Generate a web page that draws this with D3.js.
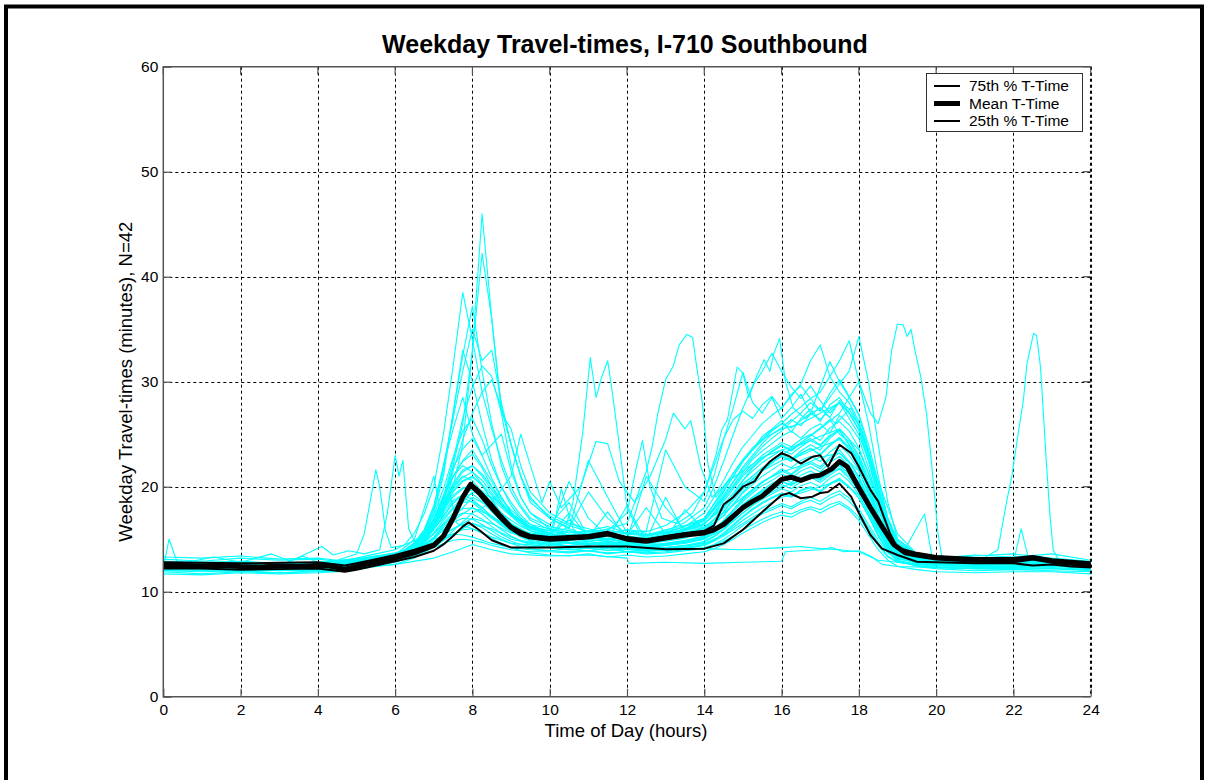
<!DOCTYPE html>
<html>
<head>
<meta charset="utf-8">
<script src="https://cdn.jsdelivr.net/npm/d3@7"></script>
<style>
  body { margin: 0; background: #fff; }
  svg { display: block; font-family: "Liberation Sans", Arial, sans-serif; }
</style>
</head>
<body>
<div id="main-chart"></div>
<script>
var hourTicks = d3.range(0, 25, 2);
var minuteTicks = d3.range(0, 61, 10);
var legendLabels = ["75th % T-Time", "Mean T-Time", "25th % T-Time"];

// shared time grid for the ordinary day traces
var traceHours = [0, 1, 2, 3, 4, 4.5, 5, 5.5,
  6, 6.25, 6.5, 6.75, 7, 7.25, 7.5, 7.75, 8, 8.25, 8.5, 8.75, 9, 9.25, 9.5,
  10, 10.5, 11, 11.5, 12, 12.5, 13, 13.5, 14,
  14.25, 14.5, 14.75, 15, 15.25, 15.5, 15.75, 16, 16.25, 16.5, 16.75, 17, 17.25, 17.5, 17.75, 18, 18.25, 18.5, 18.75, 19,
  19.5, 20, 21, 22, 23, 24];

var dayTraces = [
  [12.6,12.4,12.5,12.3,12.5, 12.4,12.8,13.0, 13.2,13.6,14.1,15.0,16.5,18.0,20.0,24.0,33.0,46.0,36.0,27.0,22.0,19.0,17.5, 16.0,15.4,15.8,16.2,15.6,15.4,15.9,16.3,17.0, 18.0,19.5,21.0,22.4,23.5,24.8,25.5,26.3,25.2,26.5,27.4,26.2,27.8,28.5,27.0,25.5,22.5,19.0,16.0,14.2, 13.3,13.0,12.8,12.9,12.7,12.6],
  [12.2,12.0,12.3,12.1,12.0, 12.2,12.5,12.9, 13.0,13.3,13.9,14.8,16.2,18.5,22.0,26.0,33.0,42.2,36.0,27.5,24.0,21.0,19.0, 17.0,16.0,15.3,15.0,14.8,14.9,15.2,15.5,16.1, 16.8,17.9,19.2,20.6,21.8,22.6,23.4,24.0,23.5,24.2,24.9,25.6,26.4,25.0,24.3,22.8,20.4,17.3,15.2,13.9, 13.2,12.9,12.7,12.6,12.8,12.5],
  [13.1,12.9,13.2,13.0,13.1, 12.9,13.2,13.6, 14.0,14.5,15.6,17.4,20.0,25.0,31.5,38.5,34.0,29.0,25.5,22.5,20.0,18.2,17.0, 16.2,15.8,15.4,15.7,15.2,15.0,15.4,15.8,16.4, 17.5,18.8,20.1,21.4,22.6,23.4,24.1,24.8,25.3,24.6,25.5,26.0,25.1,26.8,25.9,24.6,21.8,18.6,15.6,14.0, 13.4,13.1,13.0,12.9,13.1,12.8],
  [12.4,12.5,12.2,12.4,12.3, 12.5,12.7,13.1, 13.4,13.8,14.5,15.6,17.8,21.5,27.0,32.5,37.2,31.0,26.0,22.0,19.5,18.0,16.8, 15.9,15.2,15.0,14.8,14.6,14.7,14.9,15.3,15.8, 16.5,17.6,18.9,20.2,21.0,21.8,22.5,23.1,22.6,23.4,24.0,23.5,24.6,25.4,24.0,22.6,20.2,17.4,15.0,13.8, 13.1,12.9,12.8,12.7,12.9,12.6],
  [12.7,12.5,12.6,12.4,12.6, 12.6,12.9,13.3, 13.6,14.0,14.7,15.9,18.2,22.0,26.5,31.0,35.0,32.0,33.0,28.0,24.0,21.0,18.5, 17.0,16.1,19.5,17.0,15.4,18.0,15.5,16.0,16.8, 17.9,19.2,20.5,21.9,23.0,24.1,25.0,25.6,26.4,25.8,26.9,27.5,26.6,28.2,27.4,25.8,23.0,19.6,16.4,14.4, 13.5,13.2,13.4,13.6,13.2,12.9],
  [12.1,12.2,11.9,12.1,12.0, 12.1,12.4,12.8, 13.1,13.5,14.2,15.4,17.5,21.0,27.0,33.0,30.0,26.0,22.5,20.0,18.2,17.0,16.0, 15.4,14.9,14.6,14.8,14.5,14.3,14.6,14.8,15.3, 15.9,16.8,17.8,18.9,19.7,20.4,21.0,21.7,21.2,22.0,22.4,21.9,22.8,23.5,22.4,21.0,18.9,16.5,14.6,13.5, 12.9,12.7,12.5,12.4,12.5,12.3],
  [12.5,12.3,12.4,12.2,12.4, 12.3,12.6,12.9, 13.3,13.6,14.1,15.0,16.6,19.0,22.5,26.5,29.5,31.5,30.5,27.0,25.5,22.0,19.5, 17.5,16.5,16.0,15.6,15.9,15.4,15.7,16.2,16.9, 17.8,18.9,20.0,21.2,22.1,23.0,23.6,24.2,23.8,24.5,25.0,24.4,25.6,26.2,25.3,23.7,21.3,18.2,15.5,14.0, 13.3,13.0,12.9,12.8,12.9,12.7],
  [12.8,12.6,12.7,12.5,12.7, 12.7,13.0,13.3, 13.5,13.9,14.6,15.5,16.9,18.8,21.5,24.5,27.0,29.0,30.2,27.5,24.0,21.0,18.8, 17.2,16.3,15.7,15.9,15.5,15.3,15.6,15.9,16.5, 17.3,18.3,19.4,20.6,21.5,22.3,22.9,23.5,23.1,23.8,24.4,23.9,24.8,25.5,24.5,23.0,20.8,17.9,15.3,13.9, 13.2,12.9,12.8,12.7,12.8,12.6],
  [12.3,12.4,12.2,12.3,12.1, 12.3,12.6,13.0, 13.3,13.7,14.5,15.8,18.0,22.0,25.5,28.5,25.0,23.0,24.0,25.0,21.5,19.0,17.5, 16.4,18.5,15.2,17.6,15.0,14.9,19.0,15.5,16.1, 16.9,18.0,19.1,20.3,21.0,21.8,22.3,22.9,22.5,23.2,23.6,23.1,24.0,24.7,23.8,22.4,20.1,17.3,15.0,13.7, 13.0,12.8,12.7,12.6,12.8,12.5],
  [12.6,12.5,12.3,12.5,12.4, 12.5,12.8,13.2, 13.5,13.9,14.6,15.6,17.3,19.8,22.8,25.3,26.5,24.5,22.0,20.0,18.5,17.3,16.4, 15.6,15.1,14.8,15.0,14.7,14.6,14.8,15.1,15.7, 16.4,17.3,18.3,19.4,20.2,21.0,21.6,22.2,21.8,22.5,22.9,22.4,23.3,24.0,23.0,21.6,19.4,16.9,14.8,13.6, 13.0,12.8,12.7,12.6,12.7,12.5],
  [12.2,12.1,12.0,12.2,12.1, 12.2,12.4,12.8, 13.0,13.4,14.0,15.0,16.6,19.0,21.8,23.6,24.6,23.0,20.8,19.0,17.6,16.6,15.8, 15.2,14.7,14.5,14.7,14.4,14.3,14.5,14.8,15.3, 15.9,16.7,17.6,18.6,19.4,20.1,20.6,21.2,20.8,21.5,21.9,21.4,22.3,22.9,22.0,20.7,18.7,16.4,14.4,13.3, 12.8,12.6,12.5,12.4,12.5,12.3],
  [12.9,12.8,12.9,12.7,12.8, 12.8,13.1,13.4, 13.7,14.0,14.6,15.5,16.9,18.8,21.0,22.4,23.1,21.8,20.0,18.5,17.2,16.4,15.8, 15.3,17.5,15.2,14.9,18.2,14.8,15.0,17.8,15.9, 16.6,17.6,18.7,19.8,20.7,21.6,22.3,22.9,22.4,23.1,23.7,23.0,23.9,24.6,23.6,22.1,19.8,17.1,14.9,13.8, 13.2,13.0,12.9,12.9,13.0,12.7],
  [12.4,12.2,12.3,12.1,12.3, 12.2,12.5,12.9, 13.2,13.6,14.3,15.4,17.0,19.2,21.0,22.0,21.4,20.2,18.7,17.5,16.5,15.8,15.3, 14.9,14.6,14.4,14.6,14.3,14.2,14.4,14.6,15.0, 15.6,16.4,17.3,18.2,18.9,19.5,20.0,20.5,20.2,20.8,21.2,20.7,21.5,22.1,21.2,20.0,18.1,16.0,14.2,13.3, 12.8,12.6,12.5,12.4,12.5,12.3],
  [12.0,11.9,12.0,11.8,12.0, 11.9,12.2,12.6, 12.9,13.2,13.8,14.7,16.0,17.8,19.6,20.6,21.0,20.1,18.8,17.4,16.4,15.6,15.1, 14.7,14.3,14.1,14.3,14.0,13.9,14.1,14.3,14.7, 15.2,15.9,16.7,17.5,18.2,18.8,19.3,19.8,19.5,20.1,20.4,20.0,20.8,21.3,20.5,19.3,17.5,15.5,13.9,13.0, 12.4,12.2,12.0,12.1,12.0,11.9],
  [12.7,12.6,12.5,12.6,12.5, 12.6,12.9,13.2, 13.5,13.8,14.4,15.2,16.4,17.9,19.2,19.9,20.1,19.2,18.1,17.0,16.1,15.5,15.1, 14.8,14.6,14.8,14.5,14.7,14.4,14.6,14.9,15.3, 15.9,16.8,17.8,18.8,19.6,20.4,21.0,21.5,21.1,21.8,22.2,21.7,22.6,23.2,22.3,20.9,18.8,16.5,14.5,13.5, 13.0,12.8,12.7,12.7,12.8,12.5],
  [12.3,12.4,12.2,12.3,12.2, 12.3,12.6,12.9, 13.2,13.5,14.1,14.9,16.0,17.3,18.5,19.1,19.3,18.6,17.6,16.7,15.9,15.3,14.9, 14.6,14.3,14.2,14.4,14.1,14.0,14.2,14.4,14.8, 15.3,16.0,16.9,17.8,18.5,19.2,19.7,20.2,19.8,20.5,20.9,20.4,21.1,21.7,20.8,19.6,17.8,15.8,14.1,13.2, 12.7,12.5,12.4,12.4,12.5,12.2],
  [12.5,12.3,12.4,12.4,12.3, 12.4,12.6,12.9, 13.1,13.4,13.9,14.6,15.6,16.8,17.9,18.5,18.6,18.0,17.1,16.3,15.7,15.2,14.8, 14.5,14.4,14.6,14.3,14.5,14.2,14.4,14.7,15.1, 15.6,16.4,17.3,18.3,19.0,19.7,20.3,20.8,20.4,21.1,21.5,21.0,21.8,22.4,21.5,20.2,18.3,16.2,14.3,13.4, 12.9,12.7,12.6,12.6,12.6,12.4],
  [11.9,11.7,11.9,11.8,11.9, 12.0,12.3,12.6, 12.8,13.1,13.6,14.3,15.2,16.3,17.3,17.9,18.0,17.4,16.6,15.9,15.3,14.8,14.5, 14.2,14.0,13.9,14.1,13.8,13.8,14.0,14.2,14.5, 14.9,15.5,16.3,17.1,17.8,18.4,18.9,19.3,19.0,19.6,19.9,19.5,20.2,20.7,20.0,18.9,17.2,15.3,13.8,12.9, 12.5,12.3,12.2,12.1,12.2,12.0],
  [12.8,12.7,12.8,12.6,12.7, 12.7,13.0,13.3, 13.5,13.7,14.1,14.7,15.5,16.4,17.1,17.5,17.4,16.9,16.2,15.6,15.2,14.9,14.7, 14.5,14.7,14.5,14.8,14.4,14.6,14.5,14.8,15.2, 15.7,16.5,17.4,18.3,19.0,19.6,20.1,20.5,20.1,20.7,21.1,20.6,21.3,21.8,21.0,19.8,18.0,16.0,14.3,13.4, 13.0,12.8,12.7,12.7,12.8,12.5],
  [12.4,12.3,12.1,12.3,12.2, 12.2,12.5,12.8, 13.0,13.3,13.7,14.3,15.1,15.9,16.6,17.0,16.9,16.4,15.8,15.2,14.8,14.5,14.3, 14.2,14.0,14.2,13.9,14.1,13.9,14.0,14.2,14.5, 14.9,15.6,16.4,17.2,17.9,18.5,19.0,19.4,19.1,19.7,20.0,19.6,20.3,20.8,20.0,18.9,17.2,15.3,13.8,13.0, 12.6,12.4,12.3,12.3,12.4,12.2],
  [12.2,12.3,12.0,12.2,12.1, 12.2,12.4,12.7, 12.9,13.1,13.5,14.0,14.7,15.4,16.0,16.4,16.5,16.1,15.5,15.0,14.6,14.3,14.1, 13.9,13.8,13.9,13.7,13.8,13.7,13.8,14.0,14.2, 14.5,15.0,15.6,16.3,16.9,17.4,17.8,18.2,17.9,18.4,18.7,18.3,18.9,19.3,18.6,17.6,16.1,14.6,13.4,12.8, 12.5,12.3,12.2,12.2,12.3,12.1],
  [11.7,11.6,11.8,11.7,11.8, 11.9,12.1,12.4, 12.6,12.9,13.2,13.7,14.3,14.9,15.5,15.9,16.0,15.6,15.1,14.6,14.2,13.9,13.7, 13.5,13.4,13.6,13.3,13.5,13.3,13.4,13.6,13.8, 14.1,14.5,15.0,15.6,16.1,16.6,17.0,17.3,17.1,17.6,17.9,17.5,18.0,18.4,17.8,16.8,15.4,14.0,13.0,12.4, 12.1,11.9,11.8,11.9,11.9,11.7],
  [13.3,13.2,13.4,13.1,13.2, 13.0,13.1,13.4, 13.6,13.8,14.1,14.5,15.0,15.3,15.5,15.4,15.2,14.9,14.6,14.4,14.2,14.1,14.0, 13.9,14.1,13.9,14.2,13.8,14.0,13.9,14.1,14.4, 14.8,15.3,15.9,16.5,17.1,17.6,18.0,18.4,18.1,18.6,19.0,18.6,19.2,19.6,18.9,17.9,16.4,14.9,13.7,13.1, 12.9,12.8,12.9,12.8,12.9,12.7],
  [12.6,12.5,12.6,12.4,12.5, 12.5,12.7,12.9, 13.1,13.2,13.5,13.8,14.2,14.6,14.9,15.0,14.9,14.7,14.4,14.2,14.0,13.9,13.8, 13.8,13.7,13.9,13.6,13.8,13.6,13.7,13.9,14.1, 14.4,14.8,15.3,15.9,16.4,16.9,17.3,17.6,17.4,17.8,18.1,17.8,18.3,18.6,18.0,17.1,15.8,14.4,13.3,12.8, 12.6,12.5,12.4,12.4,12.5,12.3],
  [12.5,12.4,12.5,12.3,12.4, 12.4,12.7,13.0, 13.3,13.6,14.2,15.0,16.2,17.6,18.7,19.2,18.8,18.0,17.2,16.5,15.9,15.5,15.2, 15.0,15.3,15.1,15.5,15.0,15.3,15.6,16.2,17.5, 19.0,20.6,22.3,23.8,24.9,26.0,26.8,27.5,28.6,29.8,32.0,33.5,30.5,29.0,28.0,26.2,23.4,19.8,16.5,14.5, 13.4,13.1,12.9,12.9,13.0,12.7],
  [12.2,12.1,12.3,12.0,12.2, 12.2,12.5,12.9, 13.2,13.6,14.3,15.2,16.7,18.4,20.0,21.0,20.6,19.5,18.3,17.3,16.5,15.9,15.5, 15.2,14.9,15.2,15.0,15.3,15.1,15.5,16.0,17.0, 18.3,19.6,21.0,22.4,23.5,24.4,25.3,26.0,26.9,27.6,28.4,29.0,30.5,32.0,33.9,30.0,26.0,21.0,17.0,14.6, 13.5,13.2,13.0,12.9,13.0,12.8],
  [12.7,12.6,12.7,12.5,12.6, 12.6,12.9,13.2, 13.4,13.7,14.3,15.2,16.5,18.0,19.5,20.5,20.9,20.2,19.2,18.2,17.3,16.6,16.0, 15.6,20.5,17.0,15.3,14.9,21.0,18.0,15.9,16.7, 17.8,19.0,20.4,21.7,22.8,23.8,24.6,25.3,26.2,27.0,28.0,27.2,28.5,29.8,31.0,34.3,30.0,24.0,18.5,15.0, 13.6,13.3,13.1,13.0,13.1,12.8],
  [12.4,12.3,12.4,12.2,12.3, 12.3,12.6,13.0, 13.3,13.7,14.4,15.4,16.9,18.6,20.3,21.6,22.0,21.0,19.7,18.5,17.5,16.8,16.2, 15.8,15.4,15.6,15.3,15.6,15.4,15.8,16.6,18.0, 20.0,22.4,25.0,27.5,29.6,31.0,32.7,31.0,29.5,28.4,29.6,28.2,27.0,28.0,26.5,25.0,22.5,19.0,16.0,14.2, 13.3,13.0,12.9,12.8,12.9,12.6],
  [12.8,12.7,12.6,12.7,12.6, 12.7,13.0,13.3, 13.6,13.9,14.5,15.3,16.4,17.8,19.0,19.8,20.1,19.6,18.8,18.0,17.2,16.6,16.2, 15.8,16.0,22.5,19.0,15.6,15.8,23.5,20.0,18.6, 21.0,24.5,27.5,30.9,28.0,27.0,28.5,26.5,27.5,28.8,27.0,29.5,31.9,30.0,28.5,26.8,23.5,20.0,16.8,14.6, 13.5,13.2,13.5,13.3,13.6,13.0],
  [12.3,12.2,12.1,12.3,12.2, 12.2,12.5,12.8, 13.1,13.4,14.0,14.8,15.9,17.2,18.4,19.3,19.7,19.2,18.4,17.5,16.8,16.2,15.8, 15.4,15.0,15.2,14.9,15.2,15.0,15.3,15.9,17.0, 18.4,19.8,21.3,22.6,23.7,24.6,25.4,26.0,25.6,26.3,27.0,26.4,27.3,28.0,27.0,25.4,22.6,19.2,16.2,14.3, 13.3,13.0,12.8,12.8,12.9,12.6],
  [12.6,12.5,12.4,12.6,12.5, 12.5,12.8,13.1, 13.4,13.8,14.4,15.3,16.7,18.4,20.1,21.4,22.0,21.2,20.0,18.8,17.8,17.0,16.4, 16.0,15.6,15.8,15.5,15.9,15.7,16.3,17.5,19.5, 22.0,24.6,26.4,27.2,26.5,27.8,28.6,27.4,28.8,29.6,28.4,27.2,28.9,30.2,28.6,26.9,24.0,20.4,17.0,14.8, 13.5,13.2,13.0,12.9,13.0,12.8],
  [12.0,12.1,11.9,12.1,12.0, 12.0,12.3,12.7, 13.0,13.4,14.1,15.1,16.5,18.2,19.8,20.9,21.4,20.6,19.4,18.3,17.4,16.7,16.1, 15.6,15.1,14.8,15.0,14.7,14.8,15.1,15.6,16.4, 17.4,18.6,19.8,21.0,21.9,22.7,23.3,23.9,23.4,24.1,24.6,24.0,24.9,25.3,24.0,22.2,19.6,16.8,14.6,13.4, 12.9,12.7,12.6,12.5,12.6,12.4]
];

// days with isolated spikes, read as [hour, minutes]
var spikeTraces = [
  [[0,12.5],[1,12.3],[2,12.6],[3,12.5],[3.6,13.4],[4,12.8],[4.5,13.0],[5.0,13.6],[5.2,15.5],[5.35,18.5],[5.5,21.6],[5.6,20.0],[5.75,15.8],[5.9,14.2],[6.2,14.4],[6.6,15.0],[7,16.0],[7.5,18.0],[7.75,19.0],[8,18.5],[8.5,17.0],[9,15.8],[9.5,15.2],[10,14.8],[11,14.6],[12,14.4],[13,14.5],[14,15.0],[14.5,16.0],[15,17.5],[15.5,19.0],[16,20.0],[16.5,20.6],[17,21.3],[17.5,22.0],[18,20.5],[18.5,16.5],[19,13.8],[19.5,13.0],[20,12.8],[21,12.7],[22,12.6],[23,12.7],[24,12.5]],
  [[0,12.9],[0.5,12.7],[1.3,13.3],[2,12.8],[2.8,13.6],[3.3,12.9],[4.1,14.3],[4.4,13.5],[4.8,13.9],[5.2,13.6],[5.6,14.0],[5.8,17.5],[6.0,23.0],[6.1,21.0],[6.2,22.5],[6.35,16.0],[6.5,14.8],[6.8,15.5],[7.0,16.4],[7.25,18.0],[7.5,21.0],[7.75,22.5],[8,23.5],[8.25,22.0],[8.5,20.5],[8.75,19.0],[9,17.5],[9.5,16.0],[10,15.5],[10.5,16.8],[11,15.4],[11.5,15.0],[12,15.2],[12.5,14.9],[13,15.3],[13.5,15.8],[14,16.5],[14.5,18.0],[15,20.0],[15.5,21.5],[16,22.5],[16.5,23.0],[17,23.8],[17.5,24.5],[18,22.6],[18.5,18.0],[19,14.5],[19.5,13.4],[20,13.1],[21,13.0],[22,12.9],[23,13.0],[24,12.8]],
  [[0,12.3],[0.15,15.0],[0.35,12.9],[1,12.4],[2,12.2],[3,12.3],[4,12.4],[5,12.5],[6,13.0],[6.5,13.8],[7,15.2],[7.5,17.0],[8,19.0],[8.5,18.0],[9,16.5],[9.5,15.5],[10,15.0],[10.4,16.0],[10.6,18.5],[10.85,25.0],[11.05,32.3],[11.2,28.5],[11.35,30.5],[11.5,32.0],[11.6,29.5],[11.8,24.0],[12.0,18.0],[12.3,15.8],[12.7,15.2],[13,15.0],[13.5,15.5],[14,16.2],[14.5,17.5],[15,19.0],[15.5,20.5],[16,21.4],[16.5,22.0],[17,22.8],[17.5,23.2],[18,21.5],[18.5,17.0],[19,14.0],[19.5,13.1],[20,12.9],[21,12.8],[22,12.6],[23,12.7],[24,12.4]],
  [[0,12.6],[1,12.5],[2,12.7],[3,12.4],[4,12.6],[5,12.8],[6,13.3],[6.5,14.0],[7,15.0],[7.5,16.8],[8,18.0],[8.5,17.2],[9,16.0],[9.5,15.6],[10,15.3],[10.5,15.8],[11,15.5],[11.5,16.0],[12,16.5],[12.3,19.5],[12.5,21.5],[12.65,23.8],[12.8,27.0],[13.0,30.2],[13.2,31.5],[13.35,33.5],[13.55,34.5],[13.7,34.2],[13.8,31.5],[13.95,28.0],[14.1,22.0],[14.3,19.0],[14.6,20.5],[15,21.5],[15.5,22.8],[16,23.5],[16.5,24.0],[17,24.8],[17.5,25.5],[18,23.5],[18.5,19.0],[19,15.0],[19.5,13.6],[20,13.2],[21,13.0],[22,12.9],[23,12.8],[24,12.6]],
  [[0,12.4],[1,12.6],[2,12.4],[3,12.6],[4,12.5],[5,12.7],[6,13.2],[6.5,13.9],[7,14.8],[7.5,16.0],[8,17.0],[8.5,16.5],[9,15.6],[9.5,15.2],[10,15.0],[10.5,15.4],[11,15.1],[11.5,15.8],[12,17.5],[12.25,22.0],[12.4,24.4],[12.6,20.0],[12.9,17.0],[13.3,16.5],[13.7,17.5],[14,19.5],[14.3,23.0],[14.45,25.4],[14.6,26.4],[14.85,31.4],[15.0,30.8],[15.15,28.5],[15.35,30.5],[15.55,32.1],[15.7,31.0],[15.8,32.7],[15.95,34.1],[16.1,30.0],[16.3,27.5],[16.6,26.5],[17,27.5],[17.4,26.0],[17.8,27.5],[18.1,25.0],[18.4,21.0],[18.7,17.0],[19,14.5],[19.5,13.4],[20,13.0],[21,12.9],[22,12.8],[23,12.9],[24,12.6]],
  [[0,12.7],[1,12.6],[2,12.5],[3,12.7],[4,12.6],[5,12.9],[6,13.4],[6.5,14.2],[7,15.5],[7.5,17.5],[8,19.5],[8.5,19.0],[9,17.5],[9.5,16.2],[10,15.5],[11,15.2],[12,15.0],[13,15.3],[14,16.0],[14.5,17.2],[15,19.5],[15.5,21.5],[16,23.0],[16.5,24.2],[17,25.5],[17.5,27.0],[18.0,30.0],[18.3,27.0],[18.5,26.0],[18.7,28.5],[18.85,33.0],[19.0,35.5],[19.15,35.4],[19.25,34.3],[19.35,35.0],[19.45,33.0],[19.6,30.5],[19.75,27.0],[19.85,23.5],[19.95,19.5],[20.05,15.5],[20.15,13.3],[20.5,12.9],[21,12.8],[22,12.9],[23,12.7],[24,12.6]],
  [[0,12.4],[1,12.2],[2,12.3],[3,12.2],[4,12.3],[5,12.4],[6,12.9],[6.5,13.5],[7,14.3],[7.5,15.5],[8,16.5],[8.5,16.0],[9,15.0],[9.5,14.6],[10,14.4],[11,14.3],[12,14.1],[13,14.2],[14,14.6],[14.5,15.4],[15,16.8],[15.5,18.0],[16,19.0],[16.5,19.4],[17,20.0],[17.5,20.6],[18,19.2],[18.5,15.8],[19,13.6],[19.5,13.0],[20,12.8],[21,12.7],[21.6,14.0],[21.83,18.7],[21.96,21.0],[22.1,24.5],[22.26,28.3],[22.35,31.7],[22.52,34.6],[22.6,34.4],[22.7,31.4],[22.78,26.7],[22.86,21.9],[22.95,17.1],[23.03,14.0],[23.2,12.8],[24,12.6]],
  [[0,12.3],[1,12.1],[2,12.2],[3,12.0],[4,12.2],[5,12.3],[6,12.6],[7,13.2],[7.5,13.8],[8,14.5],[8.5,14.0],[9,13.6],[10,13.4],[11,13.5],[12,13.2],[12.05,12.7],[13,12.8],[14,12.7],[15,12.8],[16,12.9],[16.1,13.8],[16.5,13.9],[17,14.0],[17.3,14.2],[17.6,13.8],[18,13.9],[18.3,13.4],[18.6,12.6],[19,12.4],[20,12.3],[21,12.2],[22,12.3],[23,12.2],[24,12.1]],
  [[0,12.8],[1,12.7],[2,12.9],[3,12.6],[4,12.8],[5,13.0],[6,13.5],[6.5,15.0],[6.8,18.5],[7.0,21.0],[7.2,17.0],[7.4,19.5],[7.6,16.5],[8,16.0],[8.5,15.2],[9,14.6],[10,14.3],[10.3,19.8],[10.6,16.0],[11,14.6],[12,14.4],[13,14.2],[14,14.1],[15,14.0],[16,14.2],[16.5,14.3],[17,14.1],[17.5,14.0],[18,13.8],[18.5,13.0],[19,12.8],[19.7,17.4],[19.9,13.2],[20.5,12.8],[21,12.9],[22,12.8],[22.2,16.0],[22.4,13.0],[23,12.9],[24,12.7]],
  [[0,12.1],[1,12.3],[2,12.1],[3,12.3],[4,12.2],[5,12.4],[6,12.8],[6.5,13.4],[7,14.2],[7.5,15.8],[8,17.5],[8.5,18.5],[9,21.0],[9.25,25.0],[9.5,22.0],[9.8,18.5],[10,20.5],[10.3,18.0],[10.8,20.0],[11.2,24.3],[11.5,24.1],[11.8,20.5],[12.2,18.5],[12.6,21.0],[13.0,24.5],[13.2,27.0],[13.5,25.5],[13.65,26.3],[13.9,22.0],[14.2,19.0],[14.5,20.0],[15,22.5],[15.5,24.5],[16,25.5],[16.5,26.0],[17,27.0],[17.5,28.0],[18,26.0],[18.5,20.5],[19,15.5],[19.5,13.6],[20,13.1],[21,13.0],[22,12.9],[23,12.8],[24,12.5]]
];

var meanTime = [[0,12.5],[0.5,12.5],[1,12.45],[1.5,12.5],[2,12.4],[2.5,12.35],[3,12.45],[3.5,12.4],[4,12.5],[4.3,12.45],[4.7,12.15],[5,12.4],[5.5,12.8],[6,13.2],[6.5,13.7],[7,14.4],[7.25,15.3],[7.5,17.0],[7.75,19.0],[7.95,20.2],[8.2,19.3],[8.5,18.0],[8.75,17.0],[9,16.1],[9.25,15.5],[9.5,15.2],[10,15.0],[10.5,15.1],[11,15.2],[11.5,15.5],[12,15.0],[12.5,14.8],[13,15.1],[13.5,15.4],[14,15.6],[14.25,15.9],[14.5,16.4],[14.75,17.2],[15,18.0],[15.25,18.6],[15.5,19.1],[15.75,19.9],[16,20.7],[16.25,20.9],[16.5,20.6],[16.8,21.0],[17,21.1],[17.3,21.7],[17.5,22.4],[17.7,21.9],[18,19.9],[18.3,18.0],[18.6,16.2],[18.9,14.5],[19.2,13.7],[19.5,13.5],[20,13.2],[21,13.0],[22,12.95],[22.5,13.2],[23,12.9],[23.5,12.7],[24,12.5]];

var pct75Time = [[0,12.8],[1,12.75],[2,12.7],[3,12.75],[4,12.8],[4.7,12.5],[5,12.7],[5.5,13.1],[6,13.5],[6.5,14.0],[7,14.6],[7.25,15.4],[7.5,17.2],[7.75,19.2],[7.95,20.4],[8.2,19.6],[8.5,18.4],[8.75,17.3],[9,16.3],[9.25,15.8],[9.5,15.4],[10,15.2],[10.5,15.3],[11,15.4],[11.5,15.7],[12,15.2],[12.5,15.0],[13,15.3],[13.5,15.6],[14,15.8],[14.25,16.3],[14.4,17.5],[14.5,18.3],[14.75,19.0],[15,20.0],[15.3,20.5],[15.5,21.6],[15.7,22.4],[16,23.2],[16.2,22.9],[16.5,22.2],[16.8,22.85],[17,23.0],[17.2,21.9],[17.5,24.0],[17.8,23.2],[18,21.9],[18.3,19.7],[18.5,18.6],[18.8,15.6],[19,14.2],[19.5,13.7],[20,13.4],[21,13.2],[22,13.2],[22.5,13.4],[23,13.1],[24,12.8]];

var pct25Time = [[0,12.2],[1,12.2],[2,12.1],[3,12.15],[4,12.2],[4.7,11.9],[5,12.1],[5.5,12.5],[6,12.9],[6.5,13.3],[7,13.9],[7.25,14.5],[7.5,15.3],[7.75,16.2],[7.9,16.6],[8.2,15.8],[8.5,14.9],[9,14.2],[10,14.2],[11,14.3],[12,14.3],[13,14.05],[14,14.1],[14.5,14.6],[15,15.9],[15.5,17.6],[16,19.2],[16.2,19.4],[16.5,18.9],[16.8,19.05],[17,19.4],[17.2,19.5],[17.5,20.3],[17.8,19.05],[18,17.5],[18.3,15.4],[18.6,14.1],[19,13.5],[19.5,12.85],[20,12.8],[21,12.7],[22,12.7],[22.5,12.5],[23,12.6],[23.5,12.4],[24,12.3]];

var svg, x, y;
var W = 1207, H = 780;
var plotLeft = 163.3, plotRight = 1090.7, plotTop = 66.7, plotBottom = 696.7;
var fontFamily = "'Liberation Sans', Arial, sans-serif";

function setup() {
  svg = d3.select("#main-chart")
    .append("svg")
    .attr("width", W)
    .attr("height", H);

  svg.append("rect")
    .attr("x", 6).attr("y", 6.5)
    .attr("width", 1196).attr("height", 820)
    .attr("fill", "none")
    .attr("stroke", "#000")
    .attr("stroke-width", 4);

  x = d3.scaleLinear().domain([0, 24]).range([plotLeft, plotRight]);
  y = d3.scaleLinear().domain([0, 60]).range([plotBottom, plotTop]);
}

function drawGrid() {
  var grid = svg.append("g").attr("class", "grid")
    .attr("stroke", "#000")
    .attr("stroke-width", 1)
    .attr("stroke-dasharray", "3,3");

  grid.selectAll("line.v")
    .data(hourTicks.filter(d => d > 0))
    .enter().append("line")
    .attr("class", "v")
    .attr("x1", d => Math.round(x(d)) + 0.5).attr("x2", d => Math.round(x(d)) + 0.5)
    .attr("y1", plotTop).attr("y2", plotBottom);

  grid.selectAll("line.h")
    .data(minuteTicks.filter(d => d > 0 && d < 60))
    .enter().append("line")
    .attr("class", "h")
    .attr("y1", d => Math.round(y(d)) + 0.5).attr("y2", d => Math.round(y(d)) + 0.5)
    .attr("x1", plotLeft).attr("x2", plotRight);
}

function drawBox() {
  var axisColor = "#555";

  svg.append("path")
    .attr("d", "M" + plotRight + "," + plotTop + "H" + plotLeft + "V" + plotBottom + "H" + plotRight)
    .attr("fill", "none")
    .attr("stroke", axisColor)
    .attr("stroke-width", 1.5);

  svg.append("line")
    .attr("x1", plotRight).attr("x2", plotRight)
    .attr("y1", plotTop).attr("y2", plotBottom)
    .attr("stroke", "#000")
    .attr("stroke-width", 1.5)
    .attr("stroke-dasharray", "3,3");

  var xAxis = d3.axisBottom(x).tickValues(hourTicks).tickSizeInner(-8).tickSizeOuter(0).tickPadding(7);
  var yAxis = d3.axisLeft(y).tickValues(minuteTicks).tickSizeInner(-8).tickSizeOuter(0).tickPadding(5);

  var gx = svg.append("g").attr("transform", "translate(0," + plotBottom + ")").call(xAxis);
  var gy = svg.append("g").attr("transform", "translate(" + plotLeft + ",0)").call(yAxis);

  [gx, gy].forEach(function(g) {
    g.select(".domain").remove();
    g.selectAll(".tick line").attr("stroke", axisColor).attr("stroke-width", 1.2);
    g.selectAll(".tick text")
      .attr("fill", "#000")
      .style("font-size", "15.5px")
      .style("font-family", fontFamily);
  });

  // ticks mirrored on the top and right edges
  svg.append("g").selectAll("line")
    .data(hourTicks)
    .enter().append("line")
    .attr("x1", d => x(d)).attr("x2", d => x(d))
    .attr("y1", plotTop).attr("y2", plotTop + 8)
    .attr("stroke", axisColor).attr("stroke-width", 1.2);

  svg.append("g").selectAll("line")
    .data(minuteTicks)
    .enter().append("line")
    .attr("y1", d => y(d)).attr("y2", d => y(d))
    .attr("x1", plotRight).attr("x2", plotRight - 8)
    .attr("stroke", axisColor).attr("stroke-width", 1.2);
}

function drawTraces() {
  var line = d3.line()
    .x(d => x(d[0]))
    .y(d => y(d[1]));

  var cyan = svg.append("g").attr("class", "traces")
    .attr("fill", "none")
    .attr("stroke", "#00FFFF")
    .attr("stroke-width", 1.1)
    .attr("stroke-linejoin", "round");

  cyan.selectAll("path.day")
    .data(dayTraces)
    .enter().append("path")
    .attr("class", "day")
    .attr("d", vals => line(vals.map((v, i) => [traceHours[i], v])));

  cyan.selectAll("path.spike")
    .data(spikeTraces)
    .enter().append("path")
    .attr("class", "spike")
    .attr("d", line);

  var stats = svg.append("g").attr("class", "stats")
    .attr("fill", "none")
    .attr("stroke", "#000")
    .attr("stroke-linejoin", "round");

  stats.append("path").datum(pct75Time).attr("d", line).attr("stroke-width", 2);
  stats.append("path").datum(pct25Time).attr("d", line).attr("stroke-width", 2);
  stats.append("path").datum(meanTime).attr("d", line).attr("stroke-width", 5);
}

function drawLabels() {
  svg.append("text")
    .attr("x", 625)
    .attr("y", 53)
    .attr("text-anchor", "middle")
    .style("font-size", "25px")
    .style("font-weight", "bold")
    .text("Weekday Travel-times, I-710 Southbound");

  svg.append("text")
    .attr("x", 626)
    .attr("y", 737)
    .attr("text-anchor", "middle")
    .style("font-size", "18.5px")
    .text("Time of Day (hours)");

  svg.append("text")
    .attr("transform", "translate(132," + ((plotTop + plotBottom) / 2) + ") rotate(-90)")
    .attr("text-anchor", "middle")
    .style("font-size", "18.5px")
    .text("Weekday Travel-times (minutes), N=42");
}

function drawLegend() {
  var legend = svg.append("g").attr("class", "legend");
  legend.append("rect")
    .attr("x", 926.5).attr("y", 73.5)
    .attr("width", 156).attr("height", 58)
    .attr("fill", "#fff")
    .attr("stroke", "#333")
    .attr("stroke-width", 1);

  var widths = [2, 5, 2];
  var rows = legend.selectAll("g.row")
    .data(legendLabels)
    .enter().append("g")
    .attr("class", "row")
    .attr("transform", (d, i) => "translate(0," + (86 + i * 17.5) + ")");

  rows.append("line")
    .attr("x1", 934).attr("x2", 960)
    .attr("stroke", "#000")
    .attr("stroke-width", (d, i) => widths[i]);

  rows.append("text")
    .attr("x", 969)
    .attr("dy", "0.35em")
    .style("font-size", "15.5px")
    .text(d => d);
}

setup();
drawGrid();
drawTraces();
drawBox();
drawLabels();
drawLegend();
</script>
</body>
</html>
